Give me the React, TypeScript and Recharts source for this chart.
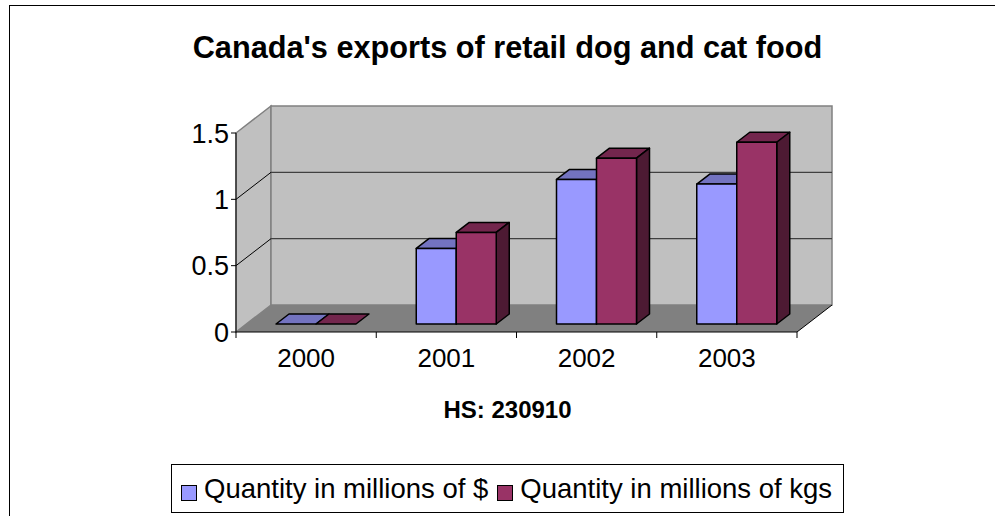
import React from 'react';
import { BarChart, Bar, XAxis, YAxis, ReferenceArea, ReferenceLine } from 'recharts';

const years = ['2000', '2001', '2002', '2003'];
const dollarValues = [0, 0.57, 1.09, 1.055];
const kgValues = [0, 0.69, 1.25, 1.37];
const yTicks = [0, 0.5, 1, 1.5];
const gridValues = [0.5, 1];

const series = [
  { key: 'dollars', name: 'Quantity in millions of $', front: '#9999FF', top: '#7373C0', side: '#4D4D80' },
  { key: 'kgs', name: 'Quantity in millions of kgs', front: '#993366', top: '#73264D', side: '#4D1A33' },
];

const data = years.map((year, i) => ({ year, dollars: dollarValues[i], kgs: kgValues[i] }));

const FONT = "'Liberation Sans', Arial, sans-serif";
// oblique depth of the walls and of the bars
const DEPTH_X = 35;
const DEPTH_Y = 27;
const BAR_SHIFT_X = 10;
const BAR_SHIFT_Y = 8;
const BAR_DEPTH_X = 13;
const BAR_DEPTH_Y = 10;

const pts = (list: number[][]) => list.map((p) => p.join(',')).join(' ');

const Walls = (props: any) => {
  const { x, y, width, height } = props;
  const bottom = y + height;
  const n = years.length;
  return (
    <g>
      <polygon
        points={pts([[x, bottom], [x, y], [x + DEPTH_X, y - DEPTH_Y], [x + DEPTH_X, bottom - DEPTH_Y]])}
        fill="#C0C0C0"
        stroke="#808080"
        strokeWidth={1.5}
      />
      <rect x={x + DEPTH_X} y={y - DEPTH_Y} width={width} height={height} fill="#C0C0C0" stroke="#808080" strokeWidth={1.5} />
      <polygon
        points={pts([[x, bottom], [x + DEPTH_X, bottom - DEPTH_Y], [x + width + DEPTH_X, bottom - DEPTH_Y], [x + width, bottom]])}
        fill="#808080"
      />
      <line x1={x + width} y1={bottom} x2={x + width + DEPTH_X} y2={bottom - DEPTH_Y} stroke="#000" strokeWidth={1} />
      {Array.from({ length: n + 1 }, (_, i) => {
        const tx = x + (width * i) / n;
        return <line key={i} x1={tx} y1={bottom} x2={tx} y2={bottom + 6} stroke="#000" strokeWidth={1} />;
      })}
    </g>
  );
};

const GridLine = (props: any) => {
  const { x1, y1, x2 } = props;
  return (
    <g>
      <line x1={x1} y1={y1} x2={x1 + DEPTH_X} y2={y1 - DEPTH_Y} stroke="#000" strokeWidth={1} />
      <line x1={x1 + DEPTH_X} y1={y1 - DEPTH_Y} x2={x2 + DEPTH_X} y2={y1 - DEPTH_Y} stroke="#404040" strokeWidth={1.2} />
    </g>
  );
};

const Bar3D = (props: any) => {
  const { x, y, width, height, front, top, side } = props;
  if (x == null || y == null) return null;
  const fx = x + BAR_SHIFT_X;
  const fy = y - BAR_SHIFT_Y;
  const h = Math.max(0, height);
  return (
    <g stroke="#000" strokeWidth={1.5} strokeLinejoin="round">
      <polygon
        points={pts([[fx, fy], [fx + BAR_DEPTH_X, fy - BAR_DEPTH_Y], [fx + width + BAR_DEPTH_X, fy - BAR_DEPTH_Y], [fx + width, fy]])}
        fill={top}
      />
      {h > 0 && (
        <polygon
          points={pts([[fx + width, fy], [fx + width + BAR_DEPTH_X, fy - BAR_DEPTH_Y], [fx + width + BAR_DEPTH_X, fy + h - BAR_DEPTH_Y], [fx + width, fy + h]])}
          fill={side}
        />
      )}
      {h > 0 && <rect x={fx} y={fy} width={width} height={h} fill={front} />}
    </g>
  );
};

const YearTick = (props: any) => {
  const { x, y, payload } = props;
  return (
    <text x={x} y={y} dy={33} textAnchor="middle" fontSize={26} fontFamily={FONT} fill="#000">
      {payload.value}
    </text>
  );
};

const AxisTitle = (props: any) => {
  const vb = props.viewBox || {};
  return (
    <text x={vb.x + vb.width / 2 - 9} y={vb.y + 86} textAnchor="middle" fontSize={24} fontWeight="bold" fontFamily={FONT} fill="#000">
      HS: 230910
    </text>
  );
};

export default function App() {
  return (
    <div style={{ position: 'absolute', left: 0, top: 0, width: 995, height: 516, overflow: 'hidden', background: '#fff', fontFamily: FONT }}>
      <div style={{ position: 'absolute', left: 9, top: 5, width: 990, height: 515, borderLeft: '1px solid #000', borderTop: '1px solid #000' }} />
      <div style={{ position: 'absolute', left: 0, top: 31, width: 1015, textAlign: 'center', fontSize: 30.7, fontWeight: 'bold', lineHeight: '34px', color: '#000' }}>
        Canada's exports of retail dog and cat food
      </div>
      <div style={{ position: 'absolute', left: 0, top: 0 }}>
        <BarChart width={995} height={516} data={data} margin={{ top: 133, right: 198, bottom: 84, left: 0 }} barGap={0} barSize={40}>
          <ReferenceArea y1={0} y2={1.5} shape={<Walls />} zIndex={-20} />
          {gridValues.map((v) => (
            <ReferenceLine key={v} y={v} shape={<GridLine />} zIndex={-10} />
          ))}
          <XAxis
            dataKey="year"
            height={100}
            tickLine={false}
            tickSize={0}
            axisLine={{ stroke: '#000', strokeWidth: 1 }}
            tick={<YearTick />}
            interval={0}
            label={{ content: <AxisTitle /> }}
          />
          <YAxis
            width={236}
            domain={[0, 1.5]}
            ticks={yTicks}
            tickSize={5}
            interval={0}
            axisLine={{ stroke: '#000', strokeWidth: 1 }}
            tickLine={{ stroke: '#000' }}
            tick={{ fill: '#000', fontSize: 27, fontFamily: FONT }}
          />
          {series.map((s) => (
            <Bar
              key={s.key}
              dataKey={s.key}
              name={s.name}
              fill={s.front}
              isAnimationActive={false}
              shape={(p: any) => <Bar3D {...p} front={s.front} top={s.top} side={s.side} />}
            />
          ))}
        </BarChart>
      </div>
      <div
        style={{
          position: 'absolute',
          left: 171,
          top: 464,
          width: 673,
          height: 49,
          boxSizing: 'border-box',
          border: '1px solid #000',
          display: 'flex',
          alignItems: 'center',
          paddingLeft: 9,
          fontSize: 27.5,
          color: '#000',
          whiteSpace: 'nowrap',
        }}
      >
        {series.map((s) => (
          <div key={s.key} style={{ display: 'flex', alignItems: 'center', marginRight: 9 }}>
            <span style={{ display: 'inline-block', width: 14, height: 14, border: '1px solid #000', background: s.front, marginRight: 7, marginTop: 8 }} />
            <span>{s.name}</span>
          </div>
        ))}
      </div>
    </div>
  );
}
